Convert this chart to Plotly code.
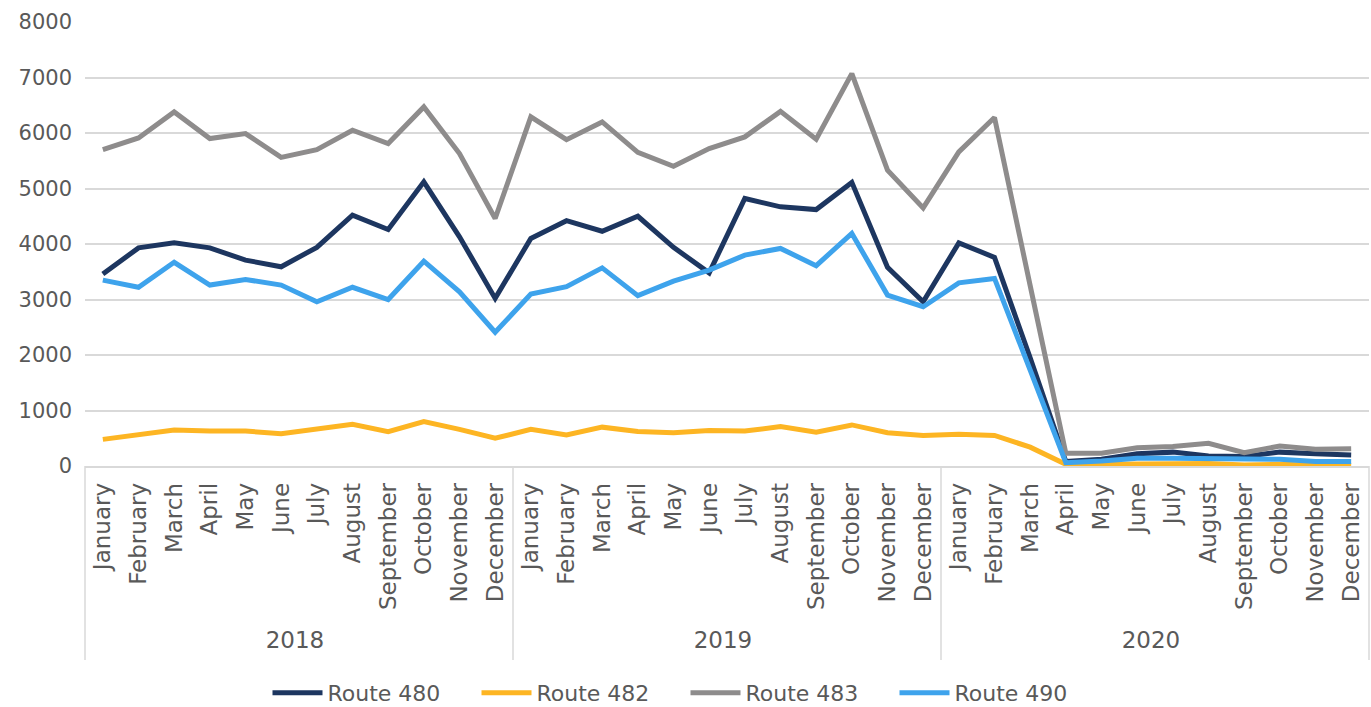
import plotly.graph_objects as go

years = ["2018"] * 12 + ["2019"] * 12 + ["2020"] * 12
months = ["January", "February", "March", "April", "May", "June", "July",
          "August", "September", "October", "November", "December"] * 3

route_480 = [3460, 3930, 4020, 3930, 3710, 3590, 3940, 4520, 4260, 5120, 4130, 3020,
             4100, 4420, 4230, 4500, 3940, 3480, 4820, 4670, 4620, 5110, 3580, 2960,
             4020, 3760, 1950, 80, 120, 220, 250, 180, 170, 250, 220, 200]
route_482 = [480, 560, 650, 630, 630, 580, 660, 750, 620, 800, 660, 500,
             660, 560, 700, 620, 600, 640, 630, 710, 610, 740, 600, 550,
             570, 550, 340, 30, 30, 40, 40, 45, 20, 30, 15, 10]
route_483 = [5700, 5910, 6380, 5900, 5990, 5560, 5700, 6050, 5810, 6470, 5630, 4460,
             6290, 5880, 6200, 5650, 5400, 5720, 5930, 6390, 5890, 7070, 5330, 4650,
             5660, 6280, 3250, 230, 230, 330, 350, 410, 240, 360, 300, 310]
route_490 = [3350, 3220, 3670, 3260, 3360, 3260, 2960, 3220, 3000, 3690, 3140, 2410,
             3100, 3230, 3570, 3070, 3330, 3530, 3800, 3920, 3610, 4190, 3080, 2870,
             3300, 3380, 1730, 60, 90, 140, 140, 140, 120, 120, 80, 80]

series = [
    ("Route 480", route_480, "#1d3660"),
    ("Route 482", route_482, "#fdb523"),
    ("Route 483", route_483, "#8e8c8c"),
    ("Route 490", route_490, "#3ea3ec"),
]

font_family = "DejaVu Sans"
text_color = "#595959"
grid_color = "#d9d9d9"
n_points = len(months)

fig = go.Figure()
for name, values, color in series:
    fig.add_trace(go.Scatter(
        x=[years, months], y=values, name=name, mode="lines",
        line=dict(color=color, width=5),
    ))

# year group separators, including the outer edges of the category axis
for frac in (0, 1 / 3, 2 / 3, 1):
    fig.add_shape(type="line", xref="paper", yref="paper",
                  x0=frac, x1=frac, y0=0, y1=-0.437,
                  line=dict(color=grid_color, width=1.5))

fig.update_layout(
    width=1371, height=707,
    margin=dict(l=85, r=2, t=22, b=241, autoexpand=False),
    paper_bgcolor="white", plot_bgcolor="white",
    font=dict(family=font_family, color=text_color, size=20),
    showlegend=True,
    legend=dict(orientation="h", x=0.5, xanchor="center", xref="container",
                y=0.02, yanchor="middle", yref="container",
                font=dict(size=22, color=text_color),
                itemwidth=50, traceorder="normal", entrywidth=144),
    xaxis=dict(
        type="multicategory", tickangle=-90, showline=True, linecolor=grid_color,
        linewidth=1.5, showgrid=False, ticks="", showdividers=False,
        range=[-0.5, n_points - 0.5], ticklabelstandoff=6,
        tickfont=dict(size=23, color=text_color), automargin=False,
    ),
    yaxis=dict(
        range=[0, 8000], tickvals=list(range(0, 8001, 1000)),
        showgrid=True, gridcolor=grid_color, gridwidth=1.5, zeroline=False,
        tickfont=dict(size=21, color=text_color), ticks="", ticklabelstandoff=12,
        automargin=False,
    ),
)

fig.write_html("out.html")
